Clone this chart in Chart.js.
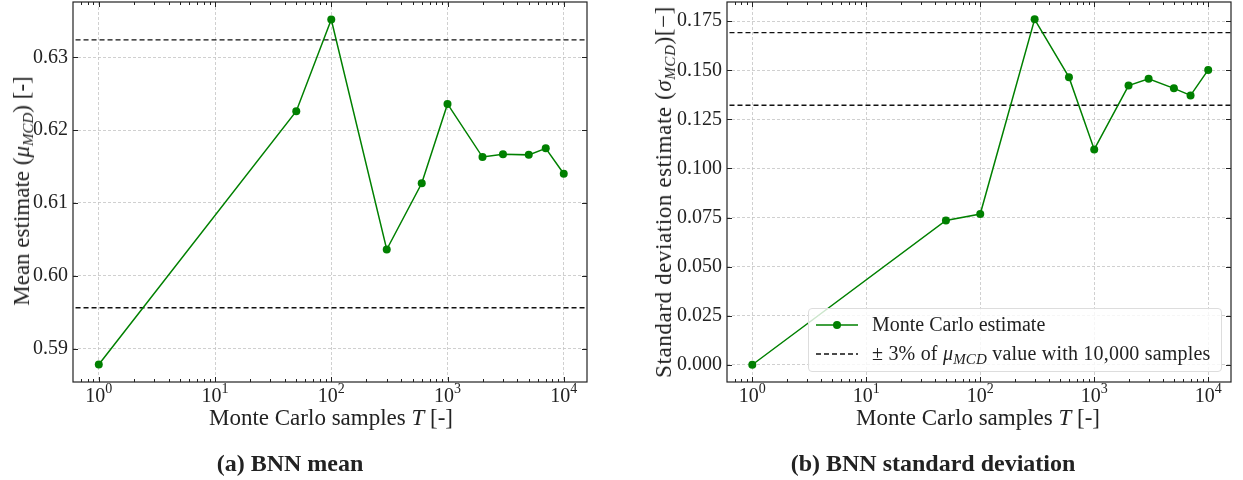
<!DOCTYPE html>
<html>
<head>
<meta charset="utf-8">
<script src="https://cdn.jsdelivr.net/npm/chart.js@4.4.1/dist/chart.umd.min.js"></script>
<style>
    body { margin: 0; background: #fff; width: 1243px; height: 480px; position: relative; overflow: hidden;
           font-family: 'Liberation Serif', serif; color: #222; }
    canvas { position: absolute; }
    .lbl { position: absolute; white-space: nowrap; font-size: 23px; transform: translate(-50%, -50%); }
    .rot { transform: translate(-50%, -50%) rotate(-90deg); }
    .cap { position: absolute; white-space: nowrap; font-size: 24px; font-weight: bold; transform: translate(-50%, -50%); }
    sub { font-size: 15px; vertical-align: -4px; line-height: 0; }
    #legend { position: absolute; left: 808px; top: 308px; width: 412px; height: 62px; border: 1px solid #ddd;
              border-radius: 4px; background: rgba(255,255,255,0.8); font-size: 20px; }
    #legend .row { position: absolute; left: 6px; height: 24px; white-space: nowrap; }
    #legend svg { position: absolute; left: 0; top: 4px; }
    #legend span { position: absolute; left: 57px; top: 0; }
</style>
</head>
<body>
<canvas id="meanChart" width="600" height="432" style="left:0; top:-2px"></canvas>
<canvas id="stdChart" width="603" height="432" style="left:640px; top:-2px"></canvas>

<div class="lbl rot" style="left:22px; top:191px">Mean estimate (<i>μ</i><sub><i>MCD</i></sub>) [-]</div>
<div class="lbl" style="left:331px; top:418px">Monte Carlo samples <i>T</i> [-]</div>
<div class="lbl rot" style="left:664px; top:192px; letter-spacing:0.6px">Standard deviation estimate (<i>σ</i><sub><i>MCD</i></sub>)[−]</div>
<div class="lbl" style="left:978px; top:418px">Monte Carlo samples <i>T</i> [-]</div>
<div class="cap" style="left:290px; top:463px">(a) BNN mean</div>
<div class="cap" style="left:933px; top:463px">(b) BNN standard deviation</div>

<div id="legend">
    <div class="row" style="top:4px">
        <svg width="44" height="16"><line x1="1" y1="8" x2="43" y2="8" stroke="#008000" stroke-width="1.5"/><circle cx="22" cy="8" r="4" fill="#008000"/></svg>
        <span>Monte Carlo estimate</span>
    </div>
    <div class="row" style="top:33px">
        <svg width="44" height="16"><line x1="1" y1="8" x2="43" y2="8" stroke="#111" stroke-width="1.4" stroke-dasharray="5,3"/></svg>
        <span style="letter-spacing:0.2px">± 3% of <i>μ</i><sub><i>MCD</i></sub> value with 10,000 samples</span>
    </div>
</div>

<script>
// Monte Carlo sample counts T
const samples = [1, 50, 100, 300, 600, 1000, 2000, 3000, 5000, 7000, 10000];
// mean estimate per T
const meanEstimate = [0.5878, 0.6226, 0.6352, 0.6036, 0.6127, 0.6236, 0.6163, 0.6167, 0.6166, 0.6175, 0.6140];
// standard deviation estimate per T
const stdEstimate = [0.0000, 0.0735, 0.0768, 0.1760, 0.1465, 0.1097, 0.1422, 0.1457, 0.1408, 0.1372, 0.1502];
// dashed +-3% lines
const meanBand = [0.5956, 0.6324];
const stdBand = [0.1322, 0.1692];
// ticks
const xDecades = [1, 10, 100, 1000, 10000];
const meanTicks = [0.59, 0.60, 0.61, 0.62, 0.63];
const stdTicks = [0.000, 0.025, 0.050, 0.075, 0.100, 0.125, 0.150, 0.175];

const xMin = Math.pow(10, -0.2);
const xMax = Math.pow(10, 4.2);
const green = '#008000';

// frame, inward ticks on all four sides and 10^k labels
const frameTicks = {
    id: 'frameTicks',
    afterDraw(chart) {
        const ctx = chart.ctx;
        const a = chart.chartArea;
        const x = chart.scales.x;
        const y = chart.scales.y;
        const line = (x1, y1, x2, y2) => { ctx.beginPath(); ctx.moveTo(x1, y1); ctx.lineTo(x2, y2); ctx.stroke(); };
        ctx.save();
        ctx.strokeStyle = '#222';
        ctx.lineWidth = 1;
        xDecades.forEach(v => {
            const px = Math.round(x.getPixelForValue(v)) + 0.5;
            line(px, a.bottom, px, a.bottom - 5);
            line(px, a.top, px, a.top + 5);
        });
        // minor ticks
        for (let d = 0.1; d <= 10000; d *= 10) {
            for (let m = 2; m <= 9; m++) {
                const v = d * m;
                if (v < xMin || v > xMax) continue;
                const px = Math.round(x.getPixelForValue(v)) + 0.5;
                line(px, a.bottom, px, a.bottom - 3);
                line(px, a.top, px, a.top + 3);
            }
        }
        y.ticks.forEach(t => {
            const py = Math.round(y.getPixelForValue(t.value)) + 0.5;
            line(a.left, py, a.left + 5, py);
            line(a.right, py, a.right - 5, py);
        });
        ctx.lineWidth = 1.2;
        ctx.strokeRect(a.left, a.top, a.right - a.left, a.bottom - a.top);

        // x tick labels 10^k
        ctx.fillStyle = '#222';
        ctx.textBaseline = 'alphabetic';
        xDecades.forEach((v, k) => {
            const px = x.getPixelForValue(v);
            ctx.font = "20px 'Liberation Serif', serif";
            const w1 = ctx.measureText('10').width;
            ctx.font = "14px 'Liberation Serif', serif";
            const w2 = ctx.measureText(String(k)).width;
            const start = px - (w1 + w2) / 2;
            ctx.font = "20px 'Liberation Serif', serif";
            ctx.fillText('10', start, a.bottom + 20);
            ctx.font = "14px 'Liberation Serif', serif";
            ctx.fillText(String(k), start + w1, a.bottom + 11);
        });
        ctx.restore();
    }
};

function makeChart(id, values, band, yMin, yMax, yTicks, digits, yWidth, padRight) {
    const ctx = document.getElementById(id);
    return new Chart(ctx, {
        type: 'line',
        data: {
            datasets: [{
                label: 'Monte Carlo estimate',
                data: samples.map((s, i) => ({x: s, y: values[i]})),
                borderColor: green,
                backgroundColor: green,
                borderWidth: 1.5,
                pointRadius: 4,
                pointBorderWidth: 0,
                order: 0
            }, {
                label: 'lower',
                data: [{x: xMin, y: band[0]}, {x: xMax, y: band[0]}],
                borderColor: '#111',
                borderWidth: 1.4,
                borderDash: [5, 3],
                pointRadius: 0,
                order: 1
            }, {
                label: 'upper',
                data: [{x: xMin, y: band[1]}, {x: xMax, y: band[1]}],
                borderColor: '#111',
                borderWidth: 1.4,
                borderDash: [5, 3],
                pointRadius: 0,
                order: 1
            }]
        },
        options: {
            responsive: false,
            animation: false,
            devicePixelRatio: 1,
            layout: { padding: { left: 0, right: padRight, top: 0, bottom: 0 } },
            plugins: { legend: { display: false }, tooltip: { enabled: false } },
            scales: {
                x: {
                    type: 'logarithmic',
                    min: xMin,
                    max: xMax,
                    afterBuildTicks: s => { s.ticks = xDecades.map(v => ({value: v})); },
                    afterFit: s => { s.height = 48; s.paddingLeft = 0; s.paddingRight = 0; },
                    ticks: { display: false },
                    grid: { color: '#c4c4c4', lineWidth: 0.8, drawTicks: false },
                    border: { display: false, dash: [3, 2] }
                },
                y: {
                    min: yMin,
                    max: yMax,
                    afterBuildTicks: s => { s.ticks = yTicks.map(v => ({value: v})); },
                    afterFit: s => { s.width = yWidth; s.paddingTop = 0; s.paddingBottom = 0; },
                    ticks: {
                        padding: 5,
                        color: '#222',
                        font: { family: "'Liberation Serif', serif", size: 20 },
                        callback: v => Number(v).toFixed(digits)
                    },
                    grid: { color: '#c4c4c4', lineWidth: 0.8, drawTicks: false },
                    border: { display: false, dash: [3, 2] }
                }
            }
        },
        plugins: [frameTicks]
    });
}

document.addEventListener("DOMContentLoaded", function () {
    makeChart('meanChart', meanEstimate, meanBand, 0.5854, 0.6376, meanTicks, 2, 73, 13);
    makeChart('stdChart', stdEstimate, stdBand, -0.0088, 0.1848, stdTicks, 3, 87, 12);
});
</script>
</body>
</html>
